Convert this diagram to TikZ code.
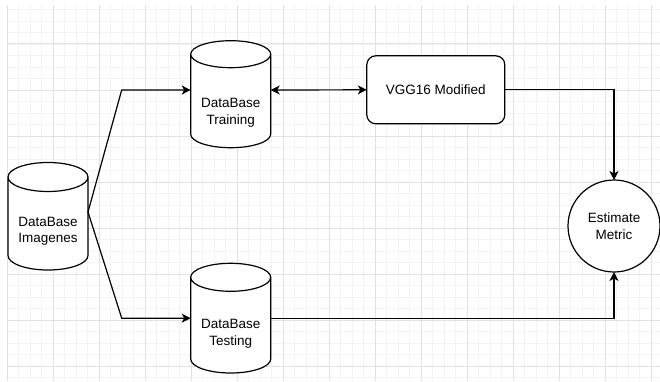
\documentclass[tikz,border=0pt]{standalone}
\usepackage{fontspec}
\setmainfont{Liberation Sans}
\usetikzlibrary{arrows.meta}
\definecolor{gridminor}{HTML}{F3F3F3}
\definecolor{gridmajor}{HTML}{E2E2E2}
\tikzset{
  shapeline/.style={draw=black, line width=1.2pt},
  cylbox/.style={rectangle, inner sep=0pt, outer sep=0pt, minimum width=80pt},
  lbl/.style={font=\fontsize{13.5}{16.5}\selectfont, align=center, inner sep=0pt},
  conn/.style={draw=black, line width=1.2pt, -{Stealth[length=9pt,width=9pt,inset=2.5pt]}},
  dconn/.style={draw=black, line width=1.2pt, {Stealth[length=9pt,width=9pt,inset=2.5pt]}-{Stealth[length=9pt,width=9pt,inset=2.5pt]}},
  minorgrid/.style={draw=gridminor, line width=0.9pt},
  majorgrid/.style={draw=gridmajor, line width=1pt}
}
% name, cx, top y (px, downward), bottom y, ry, text centre y, text
\newcommand\dbcyl[7]{%
  \pgfmathsetmacro\cyT{381-#3}%
  \pgfmathsetmacro\cyB{381-#4}%
  \pgfmathsetmacro\cyL{#2-40}%
  \pgfmathsetmacro\cyR{#2+40}%
  \pgfmathsetmacro\cyH{#4-#3}%
  \pgfmathsetmacro\cyM{(\cyT+\cyB)/2}%
  \node[cylbox, minimum height=\cyH pt] (#1) at (#2,\cyM) {};
  \draw[shapeline, fill=white] ({\cyL},{\cyT-#5}) -- ({\cyL},{\cyB+#5})
     arc[start angle=180, end angle=360, x radius=40pt, y radius=#5pt]
     -- ({\cyR},{\cyT-#5})
     arc[start angle=0, end angle=180, x radius=40pt, y radius=#5pt]
     arc[start angle=180, end angle=360, x radius=40pt, y radius=#5pt];
  \node[lbl] (#1-t) at (#2,{381-#6}) {#7};
}
\begin{document}
\begin{tikzpicture}[x=1pt, y=1pt]
  \useasboundingbox (0,0) rectangle (660,381);
  \fill[white] (0,0) rectangle (660,381);
  % grid
  \foreach \i in {0,...,56} {
    \pgfmathsetmacro\gx{7.3+11.5*\i}
    \draw[minorgrid] (\gx,0) -- (\gx,376);
  }
  \foreach \j in {0,...,32} {
    \pgfmathsetmacro\gy{381-(9.5+11.5*\j)}
    \draw[minorgrid] (7,\gy) -- (660,\gy);
  }
  \foreach \i in {0,...,14} {
    \pgfmathsetmacro\gx{7.3+46*\i}
    \draw[majorgrid] (\gx,0) -- (\gx,376);
  }
  \foreach \j in {0,...,7} {
    \pgfmathsetmacro\gy{381-(44+46*\j)}
    \draw[majorgrid] (7,\gy) -- (660,\gy);
  }
  % cylinders
  \dbcyl{img}{48}{162.5}{270}{14.5}{231.5}{DataBase\\Imagenes}
  \dbcyl{trn}{230.7}{40.7}{147.7}{13.5}{113}{DataBase\\Training}
  \dbcyl{tst}{230.7}{263.3}{373}{14}{334}{DataBase\\Testing}
  % process box and metric circle
  \node[shapeline, fill=white, rectangle, rounded corners=9pt, minimum width=138pt, minimum height=68pt, inner sep=0pt, outer sep=0pt, lbl] (vgg) at (435.8,291.2) {VGG16 Modified};
  \node[shapeline, fill=white, circle, minimum size=92pt, inner sep=0pt, outer sep=0pt, lbl] (est) at (614,155) {Estimate\\Metric};
  % bends
  \coordinate (b1) at (121.7,291);
  \coordinate (b2) at (121.7,62.85);
  % connectors
  \draw[conn] ([yshift=4.25pt]img.east) -- (b1) -- ([yshift=4.2pt]trn.west);
  \draw[conn] ([yshift=4.25pt]img.east) -- (b2) -- (tst.west);
  \draw[dconn] ([yshift=4.2pt]trn.east) -- (vgg.west);
  \draw[conn] (vgg.east) -| (est.north);
  \draw[conn] (tst.east) -| (est.south);
\end{tikzpicture}
\end{document}
